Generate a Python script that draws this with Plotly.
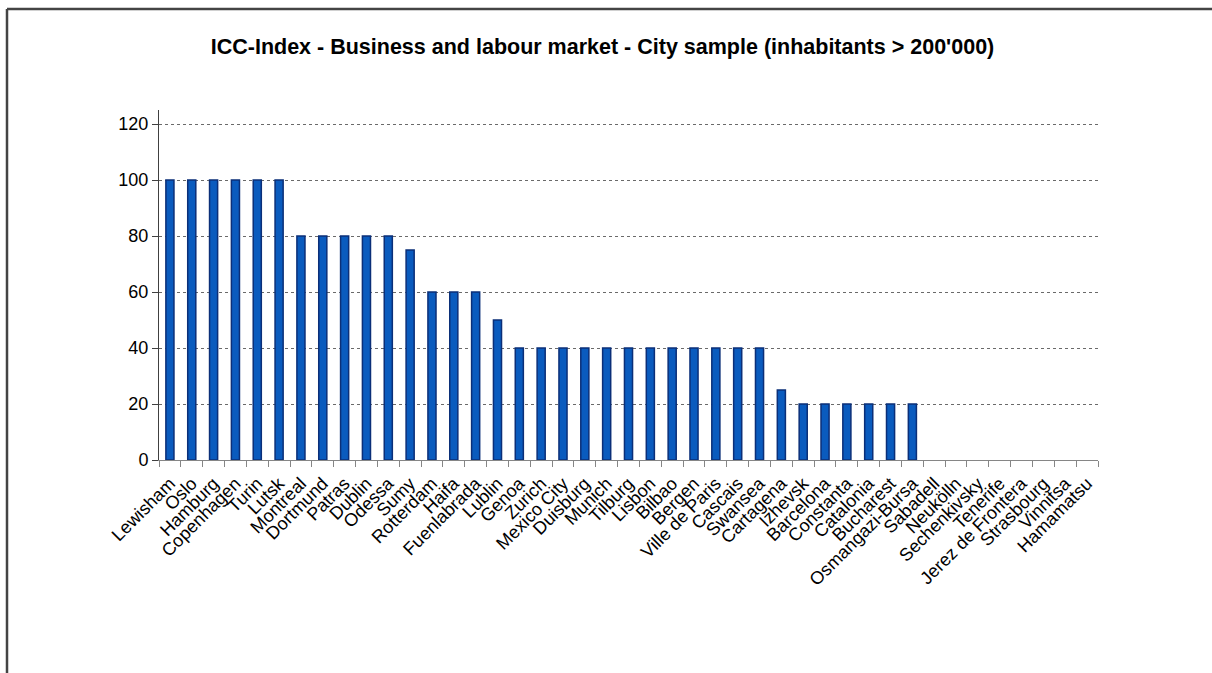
import plotly.graph_objects as go

cities = ["Lewisham", "Oslo", "Hamburg", "Copenhagen", "Turin", "Lutsk", "Montreal",
          "Dortmund", "Patras", "Dublin", "Odessa", "Sumy", "Rotterdam", "Haifa",
          "Fuenlabrada", "Lublin", "Genoa", "Zurich", "Mexico City", "Duisburg",
          "Munich", "Tilburg", "Lisbon", "Bilbao", "Bergen", "Ville de Paris",
          "Cascais", "Swansea", "Cartagena", "Izhevsk", "Barcelona", "Constanta",
          "Catalonia", "Bucharest", "Osmangazi-Bursa", "Sabadell", "Neukölln",
          "Sechenkivsky", "Tenerife", "Jerez de Frontera", "Strasbourg", "Vinnitsa",
          "Hamamatsu"]
values = [100, 100, 100, 100, 100, 100, 80,
          80, 80, 80, 80, 75, 60, 60,
          60, 50, 40, 40, 40, 40,
          40, 40, 40, 40, 40, 40,
          40, 40, 25, 20, 20, 20,
          20, 20, 20, 0, 0,
          0, 0, 0, 0, 0,
          0]
y_ticks = [0, 20, 40, 60, 80, 100, 120]
title_text = "ICC-Index - Business and labour market - City sample (inhabitants > 200'000)"

W, H = 1212, 673
ML, MR, MT, MB = 159, 114, 110, 213
PW, PH = W - ML - MR, H - MT - MB

def px_to_paper_x(px):
    return (px - ML) / PW

def px_to_paper_y(py):
    return (H - MB - py) / PH

fig = go.Figure()
fig.add_trace(go.Bar(
    x=cities, y=values,
    marker=dict(color="#0A5BBE",
                line=dict(color="#0B2F78", width=[1.5 if v > 0 else 0 for v in values])),
    width=0.37,
    hoverinfo="skip",
))

font_family = "Liberation Sans, Arial, sans-serif"
fig.update_layout(
    width=W, height=H,
    margin=dict(l=ML, r=MR, t=MT, b=MB, pad=0),
    paper_bgcolor="white", plot_bgcolor="white",
    showlegend=False,
    font=dict(family=font_family, size=18, color="black"),
    title=dict(text="<b>" + title_text + "</b>", x=602.5 / W, xanchor="center",
               xref="container", y=1 - 46 / H, yanchor="middle",
               font=dict(family=font_family, size=21.5, color="black")),
    xaxis=dict(type="category", tickangle=-45, showgrid=False, dtick=1,
               showline=True, linecolor="#868686", linewidth=1,
               ticks="outside", ticklen=6, tickcolor="#868686", tickson="boundaries",
               ticklabelstandoff=5,
               tickfont=dict(size=18, color="black"), range=[-0.5, len(cities) - 0.5]),
    yaxis=dict(range=[0, 125], tickvals=y_ticks, showgrid=True,
               gridcolor="#6a6a6a", griddash="dot", gridwidth=1,
               showline=True, linecolor="#404040", linewidth=1,
               ticks="outside", ticklen=6, tickcolor="#404040",
               tickfont=dict(size=18, color="black"), zeroline=False),
    shapes=[
        dict(type="line", xref="paper", yref="paper",
             x0=px_to_paper_x(7), x1=px_to_paper_x(W + 20),
             y0=px_to_paper_y(9), y1=px_to_paper_y(9),
             line=dict(color="#444444", width=2.5)),
        dict(type="line", xref="paper", yref="paper",
             x0=px_to_paper_x(7), x1=px_to_paper_x(7),
             y0=px_to_paper_y(9), y1=px_to_paper_y(H + 20),
             line=dict(color="#444444", width=2.5)),
    ],
)

fig.write_html("out.html", config={"displayModeBar": False},
               post_script="document.body.style.margin='0';document.body.style.overflow='hidden';")
